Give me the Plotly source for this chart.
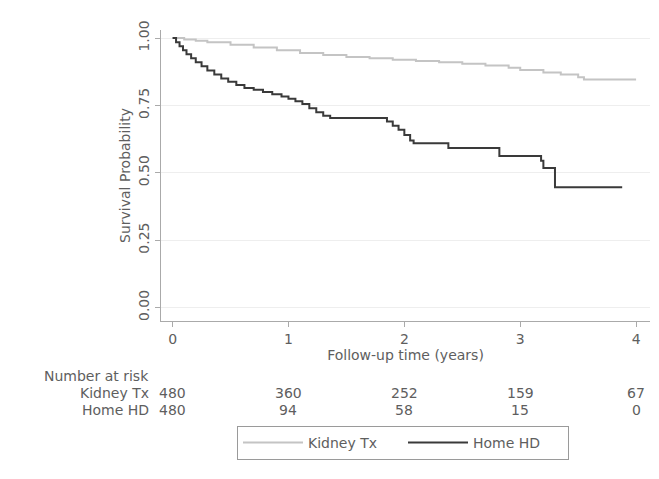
import plotly.graph_objects as go

# ---- data ----
hd_time = [0, 0.03, 0.06, 0.09, 0.12, 0.16, 0.2, 0.25, 0.3, 0.36, 0.42, 0.48, 0.55, 0.62,
           0.7, 0.78, 0.86, 0.94, 1.0, 1.06, 1.12, 1.18, 1.24, 1.3, 1.36, 1.85, 1.9, 1.95,
           2.0, 2.05, 2.08, 2.38, 2.82, 3.18, 3.2, 3.3, 3.88]
hd_surv = [1.0, 0.985, 0.97, 0.955, 0.94, 0.925, 0.91, 0.895, 0.88, 0.865, 0.85, 0.838, 0.826, 0.815,
           0.808, 0.8, 0.792, 0.783, 0.775, 0.766, 0.755, 0.74, 0.725, 0.712, 0.703, 0.69, 0.675, 0.66,
           0.64, 0.62, 0.61, 0.592, 0.562, 0.545, 0.518, 0.446, 0.446]

tx_time = [0, 0.1, 0.2, 0.3, 0.5, 0.7, 0.9, 1.1, 1.3, 1.5, 1.7, 1.9, 2.1, 2.3, 2.5, 2.7,
           2.9, 3.0, 3.2, 3.35, 3.5, 3.55, 4.0]
tx_surv = [1.0, 0.995, 0.99, 0.985, 0.975, 0.965, 0.955, 0.945, 0.937, 0.93, 0.925, 0.92,
           0.915, 0.91, 0.905, 0.898, 0.89, 0.882, 0.872, 0.865, 0.855, 0.846, 0.846]

risk_times = [0, 1, 2, 3, 4]
risk_tx = [480, 360, 252, 159, 67]
risk_hd = [480, 94, 58, 15, 0]

y_ticks = [0, 0.25, 0.5, 0.75, 1.0]
y_labels = ["0.00", "0.25", "0.50", "0.75", "1.00"]
x_ticks = [0, 1, 2, 3, 4]

FONT = "DejaVu Sans, Verdana, sans-serif"
TXT = "#5e5e5e"
FS = 14

# page offset of the plotly div (default body margin)
OFF = 8
# plot area edges in page pixels
P_LEFT, P_RIGHT, P_TOP, P_BOTTOM = 161, 650, 30, 321
L = P_LEFT - OFF
T = P_TOP - OFF
R = 659 - (P_RIGHT - OFF)
B = 479 - (P_BOTTOM - OFF)
H = 479 - T - B
W = 659 - L - R


def py(page_y):
    return (P_BOTTOM - page_y) / H


def px(page_x):
    return (page_x - P_LEFT) / W


fig = go.Figure()
fig.add_trace(go.Scatter(x=tx_time, y=tx_surv, mode="lines", line_shape="hv",
                         name="Kidney Tx", line=dict(color="#c4c4c4", width=2)))
fig.add_trace(go.Scatter(x=hd_time, y=hd_surv, mode="lines", line_shape="hv",
                         name="Home HD", line=dict(color="#3a3a3a", width=2)))

ann = []
ann.append(dict(text="Number at risk", x=px(42), xref="paper", y=py(376), yref="paper",
                xanchor="left", yanchor="middle", showarrow=False,
                font=dict(size=FS, color=TXT, family=FONT)))
for label, vals, ypix in [("Kidney Tx", risk_tx, 393), ("Home HD", risk_hd, 410)]:
    ann.append(dict(text=label, x=px(151), xref="paper", y=py(ypix), yref="paper",
                    xanchor="right", yanchor="middle", showarrow=False,
                    font=dict(size=FS, color=TXT, family=FONT)))
    for t, v in zip(risk_times, vals):
        ann.append(dict(text=str(v), x=t, xref="x", y=py(ypix), yref="paper",
                        xanchor="center", yanchor="middle", showarrow=False,
                        font=dict(size=FS, color=TXT, family=FONT)))

fig.update_layout(
    width=659, height=479,
    margin=dict(l=L, r=R, t=T, b=B, autoexpand=False),
    paper_bgcolor="white", plot_bgcolor="white",
    font=dict(family=FONT, size=FS, color=TXT),
    showlegend=True,
    legend=dict(orientation="h", x=px(237), xanchor="left", y=py(426), yanchor="top",
                bordercolor="#9a9a9a", borderwidth=1, bgcolor="white",
                font=dict(size=FS, color=TXT, family=FONT), itemwidth=60,
                entrywidth=90),
    xaxis=dict(range=[-0.1, 4.12], tickvals=x_ticks, ticks="outside", ticklen=5,
               tickcolor="#aaaaaa", showline=True, linecolor="#aaaaaa", linewidth=1,
               showgrid=False, zeroline=False, mirror=False, automargin=False,
               tickfont=dict(size=FS, color=TXT, family=FONT),
               title=dict(text="Follow-up time (years)", standoff=0,
                          font=dict(size=FS, color=TXT, family=FONT))),
    yaxis=dict(range=[-0.05, 1.03], tickvals=y_ticks, ticktext=y_labels, tickangle=-90,
               ticks="outside", ticklen=5, tickcolor="#aaaaaa", showline=True,
               linecolor="#aaaaaa", linewidth=1, showgrid=True, gridcolor="#eeeeee",
               gridwidth=1, zeroline=False, automargin=False,
               tickfont=dict(size=FS, color=TXT, family=FONT),
               title=dict(text="Survival Probability", standoff=2,
                          font=dict(size=FS, color=TXT, family=FONT))),
    annotations=ann,
)

fig.write_html("out.html")
